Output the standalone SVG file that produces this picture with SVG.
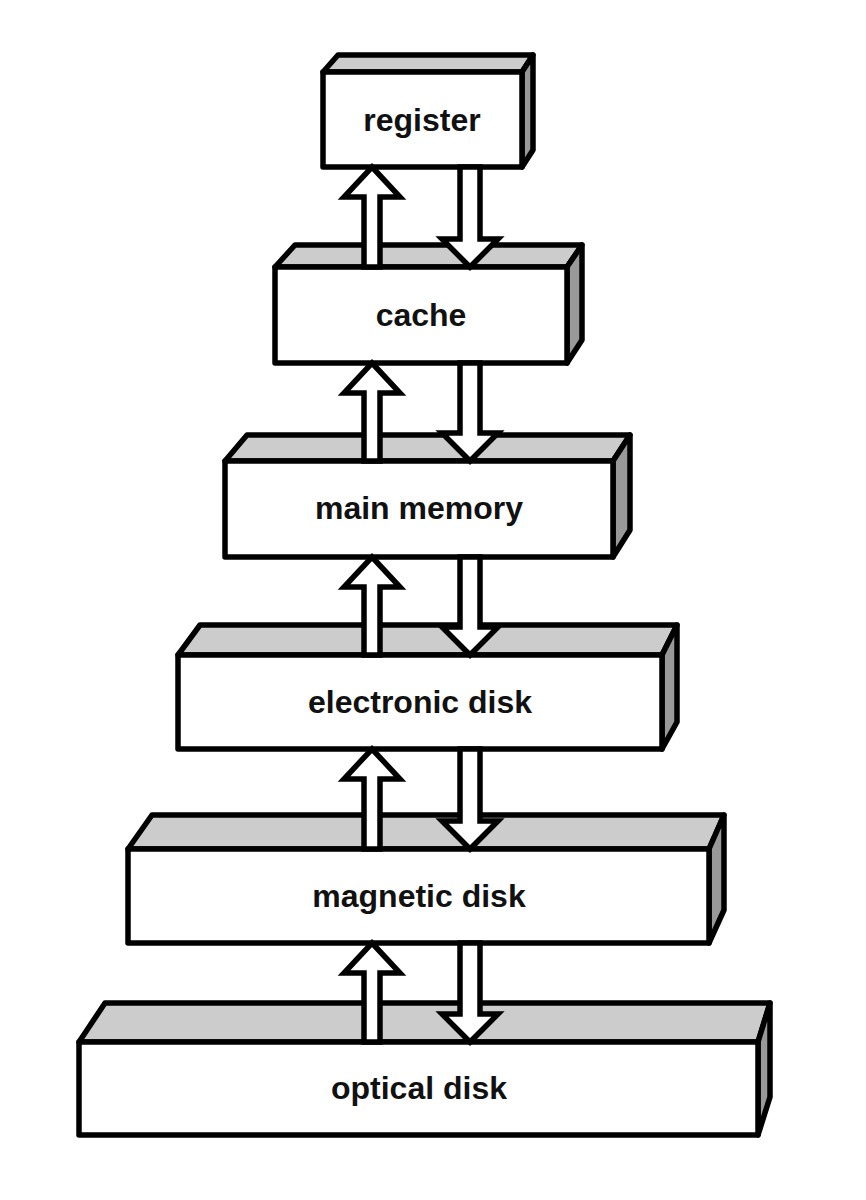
<svg xmlns="http://www.w3.org/2000/svg" width="866" height="1200" viewBox="0 0 866 1200">
<style>
.front{fill:#fff;stroke:#000;stroke-width:5.5;stroke-linejoin:round}
.top{fill:#ccc;stroke:#000;stroke-width:5.5;stroke-linejoin:round}
.side{fill:#999;stroke:#000;stroke-width:5.5;stroke-linejoin:round}
.lbl{font-family:"Liberation Sans",Arial,sans-serif;font-weight:bold;font-size:32px;fill:#111;text-anchor:middle}
.arr{fill:#fff;stroke:#000;stroke-width:5.5;stroke-linejoin:miter}
</style>
<rect width="866" height="1200" fill="#fff"/>
<g id="register">
<polygon class="top" points="323,72 338,55 533,55 522,72"/>
<polygon class="side" points="522,72 533,55 533,150 522,167"/>
<rect class="front" x="323" y="72" width="199" height="95"/>
<text class="lbl" x="422" y="131">register</text>
</g>
<g id="cache">
<polygon class="top" points="275,267 295,245 582,245 567,267"/>
<polygon class="side" points="567,267 582,245 582,340 567,363"/>
<rect class="front" x="275" y="267" width="292" height="96"/>
<text class="lbl" x="421" y="326">cache</text>
</g>
<g id="main-memory">
<polygon class="top" points="225,461 247,435 630,435 613,461"/>
<polygon class="side" points="613,461 630,435 630,530 613,557"/>
<rect class="front" x="225" y="461" width="388" height="96"/>
<text class="lbl" x="419" y="519">main memory</text>
</g>
<g id="electronic-disk">
<polygon class="top" points="178,655 200,625 677,625 662,655"/>
<polygon class="side" points="662,655 677,625 677,722 662,749"/>
<rect class="front" x="178" y="655" width="484" height="94"/>
<text class="lbl" x="420" y="713">electronic disk</text>
</g>
<g id="magnetic-disk">
<polygon class="top" points="128,849 152,815 724,815 709,849"/>
<polygon class="side" points="709,849 724,815 724,910 709,943"/>
<rect class="front" x="128" y="849" width="581" height="94"/>
<text class="lbl" x="419" y="907">magnetic disk</text>
</g>
<g id="optical-disk">
<polygon class="top" points="79,1042 105,1003 770,1003 758,1042"/>
<polygon class="side" points="758,1042 770,1003 770,1097 758,1135"/>
<rect class="front" x="79" y="1042" width="679" height="93"/>
<text class="lbl" x="419" y="1099">optical disk</text>
</g>
<g id="connectors">
<path class="arr" d="M372,167 L400,197 L380,197 L380,267 L364,267 L364,197 L344,197 Z"/>
<path class="arr" d="M460,167 L480,167 L480,239 L498,239 L470,267 L442,239 L460,239 Z"/>
<path class="arr" d="M372,363 L400,393 L380,393 L380,461 L364,461 L364,393 L344,393 Z"/>
<path class="arr" d="M460,363 L480,363 L480,433 L498,433 L470,461 L442,433 L460,433 Z"/>
<path class="arr" d="M372,557 L400,587 L380,587 L380,655 L364,655 L364,587 L344,587 Z"/>
<path class="arr" d="M460,557 L480,557 L480,627 L498,627 L470,655 L442,627 L460,627 Z"/>
<path class="arr" d="M372,749 L400,779 L380,779 L380,849 L364,849 L364,779 L344,779 Z"/>
<path class="arr" d="M460,749 L480,749 L480,821 L498,821 L470,849 L442,821 L460,821 Z"/>
<path class="arr" d="M372,943 L400,973 L380,973 L380,1042 L364,1042 L364,973 L344,973 Z"/>
<path class="arr" d="M460,943 L480,943 L480,1014 L498,1014 L470,1042 L442,1014 L460,1014 Z"/>
</g>
</svg>
